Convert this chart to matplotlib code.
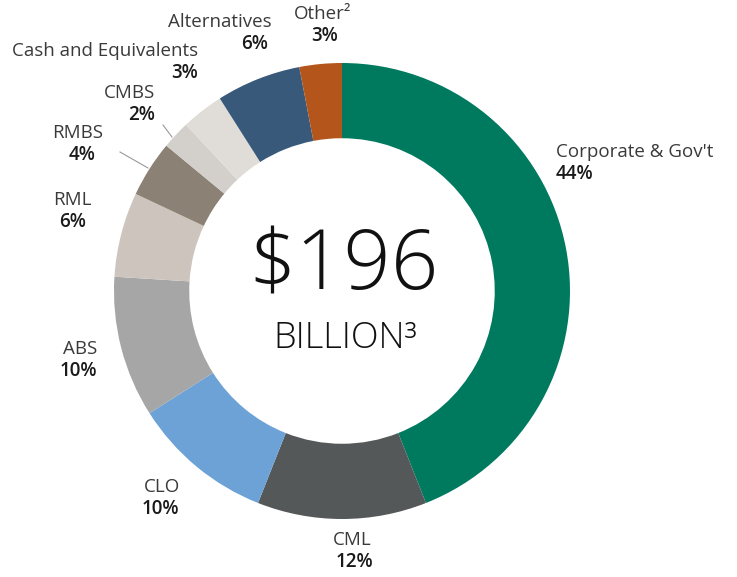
import matplotlib.pyplot as plt

plt.rcParams['font.family'] = ['Open Sans', 'DejaVu Sans']

categories = ["Corporate & Gov't", "CML", "CLO", "ABS", "RML", "RMBS",
              "CMBS", "Cash and Equivalents", "Alternatives", "Other²"]
shares = [44, 12, 10, 10, 6, 4, 2, 3, 6, 3]
colors = ["#007a5e", "#545859", "#6ca2d6", "#a6a6a6", "#cdc5bd", "#8c8175",
          "#d3cfcb", "#e0dcd8", "#38597a", "#b4561b"]

W, H = 737, 577
cx, cy, r = 342, H - 291, 228

fig = plt.figure(figsize=(W / 100, H / 100), dpi=100)
ax = fig.add_axes([0, 0, 1, 1])

ax.pie(shares, colors=colors, startangle=90, counterclock=False,
       center=(cx, cy), radius=r, frame=True,
       wedgeprops=dict(width=r * 0.33, edgecolor='none'))
ax.set_xlim(0, W)
ax.set_ylim(0, H)
ax.set_aspect('equal')
ax.axis('off')

# (name x, pct x, y of name line from top, alignment of name)
label_pos = [(556, 556, 152, 'left'), (352, 354, 540, 'center'),
             (162, 160, 487, 'center'), (80, 78, 349, 'center'),
             (72, 73, 200, 'center'), (78, 82, 133, 'center'),
             (130, 142, 93, 'center'), (198, 185, 51, 'right'),
             (272, 255, 22, 'right'), (323, 325, 14, 'center')]

for i, (name, val) in enumerate(zip(categories, shares)):
    nx, px, y, ha = label_pos[i]
    ax.text(nx, H - y, name, ha=ha, va='center', fontsize=13.5, color='#3a3a3a')
    ax.text(px, H - y - 22, f"{val}%", ha='left' if ha == 'left' else 'center',
            va='center', fontsize=13.5, fontweight='semibold', color='#1a1a1a')

# leader lines
ax.plot([120, 148], [H - 152, H - 168], color='#999999', lw=0.8)
ax.plot([163, 172], [H - 125, H - 137], color='#999999', lw=0.8)

ax.text(cx + 2, H - 268, "$196", ha='center', va='center', fontsize=60,
        fontweight='light', color='#111111')
ax.text(cx + 3, H - 338, "BILLION³", ha='center', va='center', fontsize=26,
        fontweight='light', color='#111111')

fig.savefig("out.png", dpi=100)
